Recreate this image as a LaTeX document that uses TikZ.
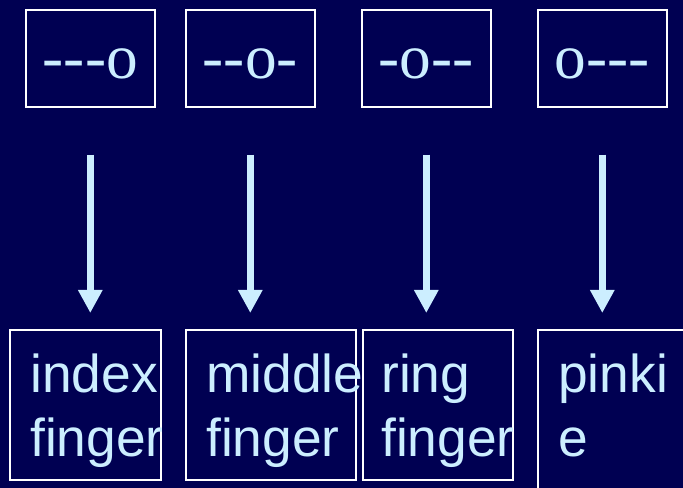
\documentclass[tikz,border=0pt]{standalone}
\usepackage{fontspec}
\usetikzlibrary{arrows.meta, calc}
\newfontfamily\keyfont{Liberation Serif}
\newfontfamily\fingerfont{Liberation Sans}
\definecolor{bgNavy}{HTML}{000052}
\definecolor{lightBlue}{HTML}{CCEEFF}
% hyphen that stays a hyphen (no --- ligature)
\newcommand{\hy}{-\kern0pt}

\begin{document}
\begin{tikzpicture}[x=0.75pt, y=-0.75pt,
    keybox/.style={draw=white, line width=1.2pt, anchor=north west, inner sep=0pt,
      minimum width=96.75pt, minimum height=72.75pt, text=lightBlue,
      font=\keyfont\fontsize{47.5pt}{57pt}\selectfont, text height=30pt, text depth=0pt},
    fingerbox/.style={draw=white, line width=1.2pt, anchor=north west, inner sep=0pt,
      minimum height=112.5pt},
    fingertext/.style={text=lightBlue, align=left, anchor=north west, inner sep=0pt,
      font=\fingerfont\fontsize{40pt}{47.5pt}\selectfont},
    fingerarrow/.style={draw=lightBlue, line width=5.5pt,
      -{Triangle[width=17.25pt, length=17.25pt]}, shorten <=35.25pt, shorten >=12pt}]
  \useasboundingbox (0,0) rectangle (683,488);
  \clip (0,0) rectangle (683,488);
  \fill[bgNavy] (0,0) rectangle (683,488);

  % key patterns
  \node[keybox] (k1) at (25,9)  {\hy\hy\hy o};
  \node[keybox] (k2) at (185,9) {\hy\hy o\hy};
  \node[keybox] (k3) at (361,9) {\hy o\hy\hy};
  \node[keybox] (k4) at (537,9) {o\hy\hy\hy};

  % fingers
  \node[fingerbox, minimum width=113.25pt] (f1) at (9,329) {};
  \node[fingerbox, minimum width=127.5pt]  (f2) at (185,329) {};
  \node[fingerbox, minimum width=112.5pt]  (f3) at (362,329) {};
  \node[fingerbox, minimum width=113.25pt, minimum height=127.5pt] (f4) at (537,329) {};

  \node[fingertext] (t1) at ($(f1.north west)+(21,25)$) {index\\finger};
  \node[fingertext] (t2) at ($(f2.north west)+(21,25)$) {middle\\finger};
  \node[fingertext] (t3) at ($(f3.north west)+(19,25)$) {ring\\finger};
  \node[fingertext] (t4) at ($(f4.north west)+(21,25)$) {pinki\\e};

  \foreach \i in {1,...,4}
    \draw[fingerarrow] (k\i.south) -- (k\i.south |- f\i.north);
\end{tikzpicture}
\end{document}
